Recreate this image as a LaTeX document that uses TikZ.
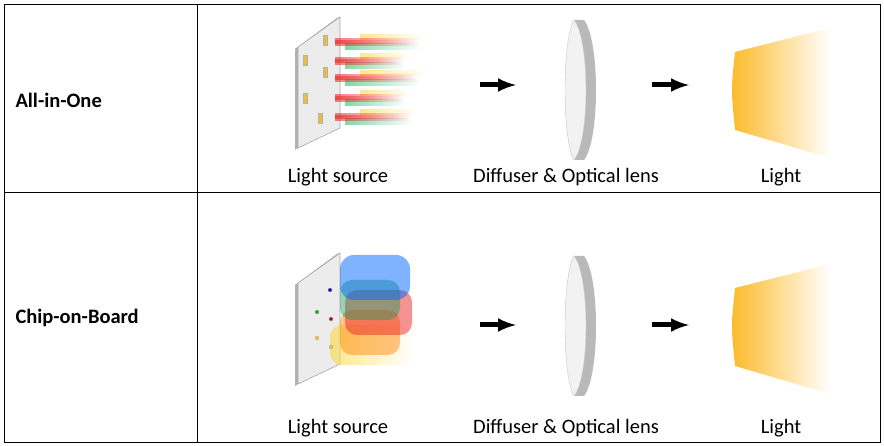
\documentclass[tikz,border=0pt]{standalone}
\usepackage{fontspec}
\setmainfont{Carlito}
\usetikzlibrary{fadings,positioning}
\definecolor{beamred}{RGB}{235,40,40}
\definecolor{beamgreen}{RGB}{40,190,110}
\definecolor{beamyel}{RGB}{255,215,60}
\definecolor{lightorg}{RGB}{252,186,40}
\tikzset{
  caption/.style={font=\fontsize{20.5}{23}\selectfont},
  rowname/.style={font=\fontsize{20.5}{23}\selectfont\bfseries, anchor=west},
  flowarrow/.style={-latex, line width=5pt},
  beam/.style={path fading=east, fill=#1, opacity=0.6},
  plate/.style={fill=gray!15, draw=gray!70, line width=0.6pt},
  chip/.style={fill=#1, draw=gray!60, line width=0.3pt}
}
\begin{document}
\begin{tikzpicture}[x=1pt,y=-1pt]
\useasboundingbox (0,0) rectangle (884,446);
% table
\draw[line width=0.7pt] (4,4) rectangle (880,442);
\draw[line width=0.7pt] (197,4) -- (197,442);
\draw[line width=0.7pt] (4,192) -- (880,192);
\node[rowname] (rowA) at (12,100) {All-in-One};
\node[rowname] (rowB) at (12,318) {Chip-on-Board};
\foreach \dy/\r/\ty in {0/A/177,236/B/428}{
  \begin{scope}[yshift=-\dy]
  % plate
  \fill[gray!60] (295,49) -- (298,47) -- (298,148) -- (295,150) -- cycle;
  \fill[gray!70] (295,49) -- (337,18) -- (340,17) -- (298,47) -- cycle;
  \draw[plate] (298,47) -- (340,17) -- (340,128) -- (298,148) -- cycle;
  % lens
  \fill[gray!55] (584,20) .. controls (600,40) and (600,140) .. (584,160) -- (574,160) .. controls (590,140) and (590,40) .. (574,20) -- cycle;
  \draw[gray!45, fill=gray!10] (574,20) .. controls (590,40) and (590,140) .. (574,160) .. controls (562,140) and (562,40) .. (574,20) -- cycle;
  % output light
  \fill[lightorg, path fading=east] (735,52) .. controls (731,90) .. (735,130) -- (830,158) -- (830,28) -- cycle;
  \end{scope}
  \node[caption] (src\r) at (338,\ty) {Light source};
  \node[caption] (lens\r) at (566,\ty) {Diffuser \& Optical lens};
  \node[caption] (out\r) at (781,\ty) {Light};
}
% beams of row A
\foreach \y/\x in {42/420,61/405,78/420,98/405,117/412}{
  \fill[beam=beamyel] (360,\y-8) rectangle (\x+5,\y-2);
  \fill[beam=beamgreen] (345,\y+1) rectangle (\x,\y+8);
  \fill[beam=beamred] (335,\y-4) rectangle (\x,\y+4);
  \fill[beam=beamred] (335,\y-2) rectangle (\x-5,\y+2);
}
\foreach \y/\x in {40/325,60/305,72/325,98/305,118/320}
  \fill[chip=beamyel!70!brown] (\x-2,\y-5) rectangle (\x+2,\y+5);
% blobs of row B
\fill[beamyel, opacity=0.6, rounded corners=12pt, path fading=east] (330,325) rectangle (415,365);
\fill[orange, opacity=0.45, rounded corners=12pt] (340,310) rectangle (400,355);
\fill[beamred, opacity=0.5, rounded corners=12pt] (345,290) rectangle (412,335);
\fill[beamgreen!80!black, opacity=0.45, rounded corners=12pt] (340,280) rectangle (400,320);
\fill[blue!60!cyan, opacity=0.5, rounded corners=14pt] (340,255) rectangle (410,300);
\fill[chip=blue!70!black] (330,290) circle (2pt);
\fill[chip=green!70!black] (317,312) circle (2pt);
\fill[chip=red!70!black] (331,319) circle (2pt);
\fill[chip=beamyel!70!brown] (317,338) circle (2pt);
\fill[chip=beamyel!70!brown] (331,347) circle (2pt);
% arrows
\foreach \y/\r in {85/A,325/B}{
  \coordinate (a1\r) at (480,\y); \coordinate (a2\r) at (516,\y);
  \coordinate (b1\r) at (652,\y); \coordinate (b2\r) at (689,\y);
  \draw[flowarrow] (a1\r) -- (a2\r);
  \draw[flowarrow] (b1\r) -- (b2\r);
}
\end{tikzpicture}
\end{document}
